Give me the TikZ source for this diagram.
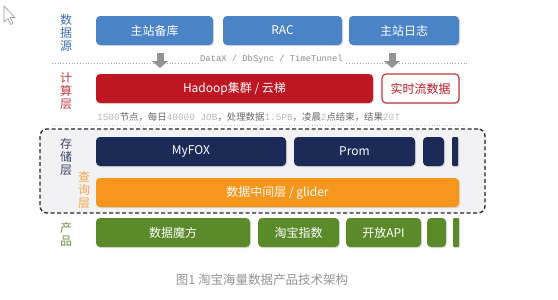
\documentclass[tikz,border=0pt]{standalone}
\usepackage{fontspec}
\setmainfont{Noto Sans CJK SC}
\newfontfamily\monof{Liberation Mono}
\usetikzlibrary{shadows,arrows.meta}
\definecolor{cblue}{HTML}{4A83C6}
\definecolor{cred}{HTML}{BE1622}
\definecolor{cnavy}{HTML}{1B2A56}
\definecolor{corange}{HTML}{F7961C}
\definecolor{cgreen}{HTML}{5A8A2A}
\definecolor{lblue}{HTML}{3E6EAE}
\definecolor{lred}{HTML}{C23A44}
\definecolor{lnavy}{HTML}{3C4663}
\definecolor{lorange}{HTML}{F2A646}
\definecolor{lgreen}{HTML}{6B8F45}
\definecolor{boxbg}{HTML}{F2F2F5}
\tikzset{
  blk/.style={rounded corners=4pt, minimum height=29pt, inner sep=0pt, text=white,
    font=\fontsize{12}{14}\selectfont, drop shadow={opacity=0.25, shadow xshift=1pt, shadow yshift=-1.2pt}},
  lbl/.style={align=center, font=\fontsize{12}{13}\selectfont, inner sep=0pt},
  garrow/.style={line width=7pt, draw=gray!85, -{Triangle[width=16pt,length=7pt]}},
  sep/.style={gray!70, dotted, line width=0.8pt}
}
\begin{document}
\begin{tikzpicture}[x=1pt,y=-1pt]
\useasboundingbox[fill=white] (0,0) rectangle (558,300);
% cursor
\draw[gray!80, fill=white, line width=0.6pt, line join=round] (4,6) -- (4,22) -- (8,18.5) -- (10.8,24.5) -- (13,23.5) -- (10.3,17.5) -- (15,17.5) -- cycle;

% layer labels
\node[lbl, text=lblue] (l1) at (66,32.5) {数\\据\\源};
\node[lbl, text=lred] (l2) at (66,91) {计\\算\\层};

% sources
\node[blk, fill=cblue, minimum width=117pt] (b1) at (154.5,30.5) {主站备库};
\node[blk, fill=cblue, minimum width=119pt] (b2) at (282.5,30.5) {RAC};
\node[blk, fill=cblue, minimum width=110pt] (b3) at (404,30.5) {主站日志};

% separator with text
\draw[sep] (52,63) -- (467,63);
\node[fill=white, inner sep=1pt, text=gray!90, font=\monof\fontsize{8.8}{9}\selectfont] (dx) at (271.5,59.5) {DataX / DbSync / TimeTunnel};

% arrows
\coordinate (a1s) at (160,53); \coordinate (a1e) at (160,68);
\coordinate (a2s) at (392,53); \coordinate (a2e) at (392,68);
\draw[garrow] (a1s) -- (a1e);
\draw[garrow] (a2s) -- (a2e);

% compute
\node[blk, fill=cred, minimum width=277pt] (hd) at (234.5,88.5) {Hadoop集群 / 云梯};
\node[blk, fill=white, draw=lred, line width=1.2pt, text=cred, minimum width=77pt, minimum height=29pt] (rt) at (420.5,88.5) {实时流数据};

% stats
\node[anchor=west, inner sep=0pt, font=\fontsize{9.4}{10}\selectfont, text=gray!80!black] (st) at (97,117)
 {{\monof\color{gray!55}1500}节点，每日{\monof\color{gray!55}40000 JOB}，处理数据{\monof\color{gray!55}1.5PB}，凌晨{\monof\color{gray!55}2}点结束，结果{\monof\color{gray!55}20T}};
\draw[gray!40, dotted, line width=0.6pt] (52,125) -- (467,125);

% storage/query dashed box
\node[draw=black!85, dashed, line width=1.3pt, fill=boxbg, rounded corners=7pt, minimum width=445pt, minimum height=84pt, inner sep=0pt, dash pattern=on 4pt off 2.5pt] (sq) at (262.5,171) {};
\node[lbl, text=lnavy] (l3) at (66,157) {存\\储\\层};
\node[lbl, text=lorange] (l4) at (84,190) {查\\询\\层};

\node[blk, fill=cnavy, minimum width=190pt] (mf) at (191,151.5) {MyFOX};
\node[blk, fill=cnavy, minimum width=121pt] (pr) at (354.5,151.5) {Prom};
\node[blk, fill=cnavy, minimum width=21pt] (n1) at (433.5,151.5) {};
\node[blk, fill=cnavy, minimum width=6pt, rounded corners=1pt] (n2) at (455,151.5) {};

\node[blk, fill=corange, minimum width=363pt] (gl) at (277.5,192.5) {数据中间层 / glider};

% products
\node[lbl, text=lgreen] (l5) at (66,234) {产\\品};
\node[blk, fill=cgreen, minimum width=154pt] (p1) at (173,232.5) {数据魔方};
\node[blk, fill=cgreen, minimum width=81pt] (p2) at (298.5,232.5) {淘宝指数};
\node[blk, fill=cgreen, minimum width=75pt] (p3) at (383.5,232.5) {开放API};
\node[blk, fill=cgreen, minimum width=19pt] (p4) at (436.5,232.5) {};
\node[blk, fill=cgreen, minimum width=6pt, rounded corners=1pt] (p5) at (456,232.5) {};

% caption
\node[text=gray!85, font=\fontsize{12.5}{14}\selectfont, inner sep=0pt] (cap) at (262,280) {图1 淘宝海量数据产品技术架构};
\end{tikzpicture}
\end{document}
